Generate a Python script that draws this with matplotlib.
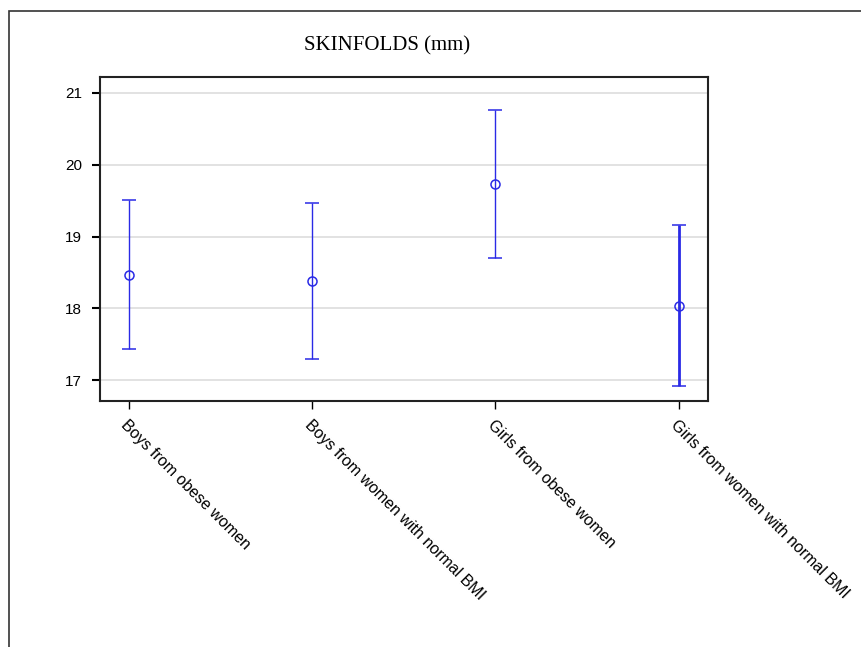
import matplotlib.pyplot as plt
import matplotlib.patches as mpatches

# Group labels and summary values (mean with lower/upper bounds)
groups = ["Boys from obese women", "Boys from women with normal BMI",
          "Girls from obese women", "Girls from women with normal BMI"]
means = [18.47, 18.38, 19.73, 18.03]
lower = [17.43, 17.29, 18.70, 16.92]
upper = [19.51, 19.46, 20.76, 19.16]
line_widths = [1.0, 1.0, 1.0, 2.0]
y_ticks = [17, 18, 19, 20, 21]

blue = "#2a2ae6"

fig = plt.figure(figsize=(8.62, 6.47), dpi=100)
ax = fig.add_axes([0.116, 0.380, 0.705, 0.501])

# outer frame around the whole graphic
frame = mpatches.Rectangle((9 / 862, -0.1), 1.2, 1.1 - 11 / 647,
                           transform=fig.transFigure, fill=False,
                           edgecolor="#333333", linewidth=1.2)
fig.patches.append(frame)

for i, g in enumerate(groups):
    yerr = [[means[i] - lower[i]], [upper[i] - means[i]]]
    ax.errorbar([i], [means[i]], yerr=yerr, fmt="o", color=blue,
                mfc="none", mec=blue, ms=6.5, mew=1.1,
                elinewidth=line_widths[i], capsize=5, capthick=line_widths[i],
                zorder=3)

ax.set_xlim(-0.158, 3.158)
ax.set_ylim(16.71, 21.22)
ax.set_yticks(y_ticks)
ax.set_yticklabels([str(t) for t in y_ticks], fontsize=11, family="Liberation Sans")
ax.set_xticks(range(len(groups)))
ax.set_xticklabels(groups, rotation=-45, ha="left", va="top",
                   rotation_mode="anchor", fontsize=11.5, family="Liberation Sans")
ax.tick_params(axis="x", length=6, width=1, pad=6)
ax.tick_params(axis="y", length=6, width=1.5, pad=7)
ax.yaxis.grid(True, color="#dddddd", linewidth=1.2)
ax.set_axisbelow(True)
for s in ax.spines.values():
    s.set_linewidth(1.5)
    s.set_color("#222222")

fig.text(0.449, 0.929, "SKINFOLDS (mm)", ha="center", va="center",
         fontsize=15, family="Liberation Serif")

plt.savefig("out.png", dpi=100)
